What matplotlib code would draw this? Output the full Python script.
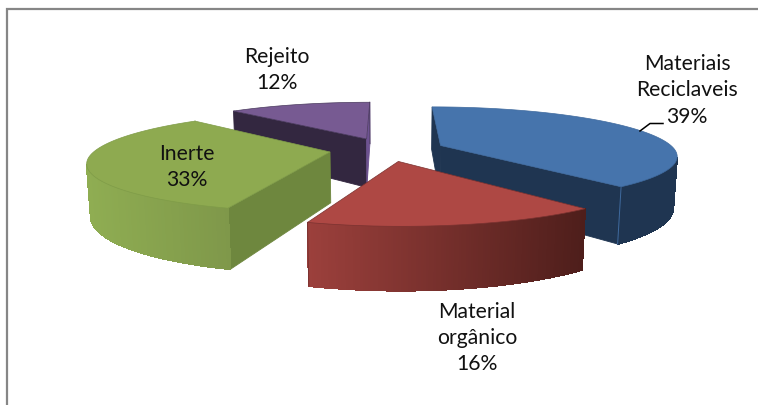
import numpy as np
import matplotlib
matplotlib.use("Agg")
import matplotlib.pyplot as plt
from matplotlib.patches import Polygon
from matplotlib.colors import to_rgb

# ----------------------
# Data
# ----------------------
categories = ["Materiais\nReciclaveis", "Material\norgânico", "Inerte", "Rejeito"]
values = [39, 16, 33, 12]

# ----------------------
# Style
# ----------------------
top_colors = ["#4674AC", "#AE4844", "#8EAA50", "#775A92"]
rim_left = ["#1F3551", "#9C403C", "#8FAD52", "#5A4472"]
rim_right = ["#1F3551", "#4E1E1B", "#7F984A", "#5A4472"]
start_wall = ["#1F3551", "#6E2C29", "#6E873E", "#332740"]
end_wall = ["#1F3551", "#6E2C29", "#6E873E", "#6D5290"]
seam_colors = ["#3F6A9E", "#7A3230", "#7F9C48", "#4A3A5E"]
draw_order = [3, 0, 2, 1]

label_xy = [(687, 90.5), (477, 338), (187, 167), (277, 70)]

# projection of the tilted pie, in pixels of the 758x405 picture
center_x, center_y = 387, 149.4
scale_x, scale_y, height = 234, 47.3, 51
persp = 0.19
persp_z = 0.013
explode = 0.247
start_angle = 90


def project(gx, gy, z=0.0):
    w = 1 + persp * gy + persp_z * z
    return center_x + scale_x * gx / w, center_y - scale_y * gy / w + height * z / w


def area_up(pts):
    x = np.array([p[0] for p in pts])
    y = -np.array([p[1] for p in pts])
    return 0.5 * np.sum(x * np.roll(y, -1) - np.roll(x, -1) * y)


def wall(ax, p_top, q_top, p_bot, q_bot, color, z, smooth=True):
    quad = [p_top, q_top, q_bot, p_bot]
    if area_up(quad) <= 0:
        return False
    ax.add_patch(Polygon(quad, closed=True, facecolor=color, edgecolor=color, linewidth=0.6,
                         antialiased=smooth, zorder=z))
    return True


# ----------------------
# Figure
# ----------------------
plt.rcParams["font.family"] = ["Lato", "DejaVu Sans"]
fig = plt.figure(figsize=(7.58, 4.05), dpi=100)
ax = fig.add_axes([0, 0, 1, 1])
ax.set_xlim(0, 758)
ax.set_ylim(405, 0)
ax.axis("off")

# chart area frame, cut by the picture on the right and at the bottom
ax.plot([7, 7, 758], [405, 9, 9], color="#868686", lw=1.6, solid_joinstyle="miter", zorder=1)

# ----------------------
# Slices
# ----------------------
shares = np.array(values) / sum(values) * 360
ends = start_angle - np.cumsum(shares)
starts = ends + shares

for rank, i in enumerate(draw_order):
    z = 2 + rank
    mid = np.radians((starts[i] + ends[i]) / 2)
    ox, oy = explode * np.cos(mid), explode * np.sin(mid)
    angles = np.radians(np.linspace(starts[i], ends[i], 121))
    gx = ox + np.cos(angles)
    gy = oy + np.sin(angles)

    apex_top = project(ox, oy)
    apex_bot = project(ox, oy, 1)
    rim_top = [project(a, b) for a, b in zip(gx, gy)]
    rim_bot = [project(a, b, 1) for a, b in zip(gx, gy)]

    # radial walls
    wall(ax, apex_top, rim_top[0], apex_bot, rim_bot[0], start_wall[i], z)
    wall(ax, rim_top[-1], apex_top, rim_bot[-1], apex_bot, end_wall[i], z)

    # outer wall, shaded from left to right
    xs = [p[0] for p in rim_top]
    left = np.array(to_rgb(rim_left[i]))
    right = np.array(to_rgb(rim_right[i]))
    for k in range(len(rim_top) - 1):
        frac = (xs[k] - min(xs)) / (max(xs) - min(xs))
        wall(ax, rim_top[k], rim_top[k + 1], rim_bot[k], rim_bot[k + 1],
             tuple(left + (right - left) * frac), z, smooth=False)

    # corner line between the walls
    ax.plot([rim_top[-1][0], rim_bot[-1][0]], [rim_top[-1][1], rim_bot[-1][1]],
            color=seam_colors[i], lw=0.7, zorder=z)

    # top face
    ax.add_patch(Polygon([apex_top] + rim_top, closed=True, facecolor=top_colors[i],
                         edgecolor=seam_colors[i], linewidth=0.5, zorder=z))

# ----------------------
# Labels
# ----------------------
for name, val, (lx, ly) in zip(categories, values, label_xy):
    ax.text(lx, ly, f"{name}\n{val}%", ha="center", va="center", fontsize=15.2,
            color="#111111", linespacing=1.38, zorder=20)

# leader line of the first label
ax.plot([640, 650, 663], [131, 123.5, 123.5], color="black", lw=1.1, zorder=20)

fig.savefig("out.png", dpi=100)
